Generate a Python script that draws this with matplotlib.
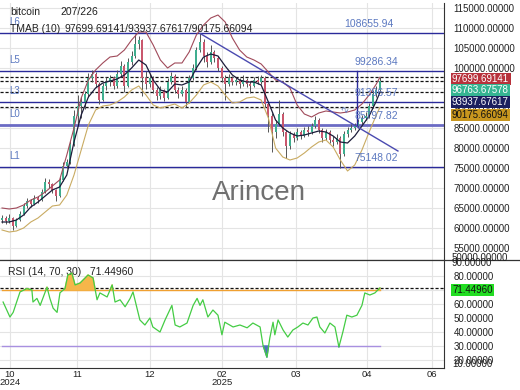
import matplotlib
matplotlib.use("Agg")
import matplotlib.pyplot as plt
import numpy as np

plt.rcParams['font.family'] = ['Liberation Sans', 'DejaVu Sans']

# ---------------- data ----------------
closes = [62.5, 61.8, 62.6, 60.5, 62.0, 63.5, 65.5, 66.8, 66.0, 67.5,
          67.0, 69.0, 71.5, 71.0, 69.5, 68.0, 72.0, 75.5, 76.5, 81.0,
          88.0, 90.5, 91.5, 93.5, 97.5, 98.5, 96.0, 92.0, 95.5, 96.5,
          97.5, 95.5, 98.5, 100.5, 95.5, 101.5, 103.0, 106.0, 107.0, 97.5,
          96.0, 97.5, 94.5, 93.0, 94.5, 92.5, 96.5, 98.0, 94.5, 93.5,
          94.5, 91.5, 97.5, 100.0, 104.5, 106.5, 103.0, 101.5, 104.0, 102.5,
          100.0, 97.5, 96.0, 97.5, 96.5, 97.0, 96.0, 97.0, 96.0, 95.5,
          97.0, 96.5, 97.5, 91.0, 88.0, 84.0, 86.0, 88.5, 84.0, 80.5,
          83.5, 82.5, 84.0, 83.0, 84.5, 84.0, 85.5, 87.0, 84.5, 82.5,
          84.0, 82.0, 81.5, 82.5, 78.5, 83.5, 84.5, 85.0, 85.5, 86.5,
          87.5, 88.0, 90.5, 93.5, 94.5, 96.76]
highs = [63.3, 63.0, 63.4, 62.8, 62.6, 64.2, 66.2, 67.4, 67.3, 68.2,
         68.0, 69.8, 72.4, 72.2, 71.3, 69.8, 72.7, 76.4, 77.3, 81.8,
         89.5, 93.2, 92.8, 94.2, 98.8, 99.6, 98.9, 96.4, 96.2, 97.8,
         98.2, 97.9, 99.4, 101.8, 101.0, 102.6, 104.3, 108.5, 108.0, 107.3,
         99.2, 98.4, 97.9, 95.3, 95.4, 94.8, 97.4, 99.0, 98.4, 95.2,
         95.6, 94.9, 98.2, 101.0, 105.3, 108.7, 107.2, 104.0, 105.8, 104.5,
         103.0, 100.4, 98.2, 98.6, 98.0, 97.8, 97.6, 98.2, 97.5, 96.8,
         97.7, 98.0, 98.3, 97.9, 91.6, 88.8, 87.0, 92.0, 89.0, 84.6,
         84.3, 84.0, 85.1, 84.5, 85.2, 85.5, 86.3, 88.0, 87.4, 85.0,
         84.8, 84.6, 83.0, 83.4, 83.0, 84.2, 85.2, 85.9, 86.2, 87.3,
         88.2, 89.0, 91.3, 94.4, 95.5, 97.7]
lows = [61.2, 61.0, 61.3, 59.5, 60.2, 61.8, 63.2, 65.0, 65.3, 65.8,
        66.2, 66.8, 68.7, 70.1, 68.8, 66.8, 67.8, 71.8, 74.9, 76.0,
        80.5, 86.0, 87.5, 89.8, 92.8, 96.5, 95.2, 91.0, 91.8, 94.5,
        95.6, 94.8, 95.0, 97.8, 94.0, 95.2, 100.7, 102.5, 104.8, 93.0,
        94.8, 95.2, 93.8, 92.0, 92.3, 91.8, 92.2, 96.0, 93.8, 92.6,
        92.9, 90.2, 91.2, 97.0, 99.5, 103.9, 101.6, 100.2, 101.0, 101.6,
        99.2, 96.5, 92.0, 95.4, 95.7, 95.8, 95.1, 95.6, 95.2, 93.7,
        95.2, 95.9, 96.1, 90.2, 84.0, 79.0, 82.5, 85.4, 83.1, 77.5,
        79.8, 81.4, 82.0, 82.2, 82.7, 83.1, 83.6, 85.0, 83.8, 81.6,
        81.9, 81.2, 80.6, 80.9, 75.1, 78.0, 82.8, 83.9, 84.4, 85.0,
        86.0, 87.1, 87.6, 90.0, 92.8, 94.0]
first_open = 62.0

band_idx = list(range(0, 105, 2)) + [105]
band_mid = [61.5, 61.5, 62.0, 63.25, 65.25, 66.5, 68.0, 69.5, 70.25, 73.25,
            81.5, 88.25, 92.75, 95.0, 96.25, 96.75, 97.25, 98.25, 100.0, 102.0,
            100.75, 97.0, 94.5, 94.0, 96.0, 95.75, 96.5, 100.0, 102.75, 103.5,
            103.0, 100.5, 98.25, 97.0, 96.5, 96.5, 95.75, 91.5, 87.0, 85.0,
            83.75, 83.0, 83.25, 83.75, 84.25, 84.0, 83.0, 81.5, 81.25, 83.0,
            85.5, 88.0, 91.75, 93.93767617]
band_up = [65.0, 64.75, 65.0, 65.75, 67.0, 67.75, 69.0, 70.5, 72.0, 78.25,
           85.0, 92.5, 97.0, 99.5, 101.25, 102.75, 103.0, 104.5, 107.0, 109.0,
           109.0, 105.75, 102.0, 100.0, 101.25, 101.25, 104.0, 108.25, 110.75, 112.5,
           113.25, 111.5, 107.5, 104.5, 102.75, 102.0, 101.0, 99.0, 97.0, 96.5,
           95.0, 90.75, 88.5, 87.75, 88.75, 89.25, 89.0, 88.75, 89.0, 89.5,
           91.0, 93.25, 96.0, 97.69969141]
band_low = [59.5, 59.0, 59.25, 60.0, 61.5, 62.5, 64.0, 65.5, 65.75, 68.25,
            73.25, 79.5, 85.75, 89.5, 90.5, 90.75, 91.5, 92.75, 94.5, 95.5,
            93.25, 90.75, 90.0, 90.5, 91.0, 90.0, 91.25, 93.25, 95.75, 96.5,
            95.5, 93.25, 91.25, 91.5, 92.5, 92.75, 92.0, 87.5, 80.0, 77.75,
            77.0, 77.5, 78.75, 80.25, 81.5, 82.0, 80.25, 77.0, 74.25, 75.75,
            79.5, 84.0, 88.25, 90.17566094]

rsi_idx = [0.3, 2.2, 3.1, 5, 6.9, 8.3, 8.6, 9.7, 10.6, 12.5, 13.3, 14.2, 15.3,
           16.1, 17.5, 18.3, 19.4, 20.3, 21.7, 23.1, 23.9, 25.3, 26.4, 27.2,
           29.2, 30.6, 31.4, 32.8, 34.2, 35.6, 36.4, 37.5, 38.3, 39.7, 41.1,
           41.9, 43.9, 45.3, 47.2, 48.1, 49.4, 51.4, 53.1, 54.2, 55, 55.8,
           57.2, 58.6, 60, 61.1, 61.9, 64.2, 66.1, 68.1, 69.7, 71.7, 72.5,
           73.6, 74.4, 75.3, 75.8, 76.7, 78.1, 79.4, 80.8, 82.2, 83.6, 85,
           86.4, 87.5, 88.3, 89.7, 91.1, 92.5, 93.6, 94.7, 95.8, 97.2, 98.6,
           100, 100.8, 102.2, 103.6, 105]
rsi_val = [61.4, 50.7, 54, 68.6, 71, 70, 61.4, 64, 59, 72, 64, 57, 54,
           68, 71, 80.7, 82, 73.6, 75, 78.6, 80.7, 78.6, 63, 67.9,
           65, 73.6, 61.4, 63, 58, 64, 68.6, 57, 48.6, 45, 50,
           43.6, 40, 48.6, 59, 45, 43.6, 46.4, 59, 64, 59, 63,
           50.7, 55.7, 52, 38, 47, 43.6, 45, 43, 46.4, 43.6, 30.7,
           22, 35.7, 47, 38, 48.6, 41.4, 36.4, 41.4, 43.6, 46.4, 45,
           50, 50.7, 43.6, 39.3, 46.4, 43.6, 29.3, 40, 52, 50.7, 52,
           59, 67.9, 66.4, 67.9, 71.4496]

levels = [108655.94, 99286.34, 91396.57, 85797.82, 75148.02]
level_names = {108655.94: "L6", 99286.34: "L5", 91396.57: "L3", 85797.82: "L0", 75148.02: "L1"}
tmab = [97699.69141, 93937.67617, 90175.66094]
last_close = 96763.67578
trend_idx = [55, 110]
trend_val = [108655.94, 79250.0]
vline_idx = 98.6

tick_idx = [2.2, 20.8, 41.1, 61.1, 81.7, 101.4, 119.4]
tick_lab = ["10\n2024", "11", "12", "02\n2025", "03", "04", "06"]

# ---------------- figure ----------------
W, H = 520, 390
fig = plt.figure(figsize=(5.2, 3.9), dpi=100)
fig.patch.set_facecolor('white')

def fx(px):
    return px / W

def fy(py):
    return 1 - py / H

ax = fig.add_axes([0, fy(260), fx(444), fy(3) - fy(260)])
ax2 = fig.add_axes([0, fy(368), fx(444), fy(260) - fy(368)], sharex=ax)

xlim = (-0.56, 122.8)
ax.set_xlim(*xlim)
ax.set_ylim(52000, 116250)
ax2.set_ylim(14.3, 91.4)

for a in (ax, ax2):
    a.set_facecolor('white')
    a.grid(True, color='#e4e4e4', lw=0.8)
    a.set_axisbelow(True)
    a.yaxis.tick_right()
    a.tick_params(axis='y', length=0, pad=7, labelsize=7, colors='#222222')
    for s in ('left', 'top'):
        a.spines[s].set_visible(False)
    a.spines['right'].set_color('#333333')
    a.spines['bottom'].set_color('#333333')

ax.set_yticks(np.arange(55000, 115001, 5000))
ax.yaxis.set_major_formatter(matplotlib.ticker.FormatStrFormatter('%.5f'))
ax2.set_yticks([20, 30, 40, 50, 60, 70, 80])
ax2.yaxis.set_major_formatter(matplotlib.ticker.FormatStrFormatter('%.5f'))
ax.set_xticks(tick_idx)
ax.tick_params(axis='x', labelbottom=False, length=0)
ax2.tick_params(axis='x', length=0, labelsize=6.8, pad=1.5, colors='#222222')
ax2.set_xticks(tick_idx)
ax2.set_xticklabels(tick_lab, linespacing=0.85)

# candles
n = len(closes)
idx = np.arange(n)
c = np.array(closes) * 1000
hi = np.array(highs) * 1000
lo = np.array(lows) * 1000
o = np.concatenate([[first_open * 1000], c[:-1]])
up = c >= o
ax.vlines(idx, lo, hi, color='#555555', lw=0.7, zorder=3)
ax.bar(idx[up], (c - o)[up], bottom=o[up], width=0.55, color='#3fae8f', zorder=4)
ax.bar(idx[~up], (c - o)[~up], bottom=o[~up], width=0.55, color='#c9576d', zorder=4)

# bands
bi = np.array(band_idx)
ax.plot(bi, np.array(band_up) * 1000, color='#a04a5a', lw=0.8, zorder=5)
ax.plot(bi, np.array(band_mid) * 1000, color='#1c1c3a', lw=0.9, zorder=5)
ax.plot(bi, np.array(band_low) * 1000, color='#c9ab62', lw=0.8, zorder=5)

# level lines
for lv in levels:
    if lv == 85797.82:
        ax.axhline(lv, color='#6b6bc4', lw=2.0, zorder=2)
    else:
        ax.axhline(lv, color='#2a2a9a', lw=1.0, zorder=2)
for tv in tmab + [last_close]:
    ax.axhline(tv, color='#111111', lw=0.9, ls=(0, (2.5, 1.5)), zorder=2)

ax.plot(trend_idx, trend_val, color='#4a4ab0', lw=1.0, zorder=6)
ax.plot([vline_idx, vline_idx], [85797.82, 99286.34], color='#2a2a9a', lw=1.0, zorder=6)

lab_col = '#5b78c0'
for lv in levels:
    ax.text(2, lv + 1500, level_names[lv], color=lab_col, fontsize=7, va='bottom', ha='left', zorder=7)
num_pos = {108655.94: 102, 99286.34: 104, 91396.57: 104, 85797.82: 104, 75148.02: 104}
for lv in levels:
    ax.text(num_pos[lv], lv + 1000, f"{lv:.2f}", color=lab_col, fontsize=7.5, ha='center', va='bottom', zorder=7)

ax.text(95.5, 89500, "2", color=lab_col, fontsize=6.5, rotation=60, ha='center', va='center', zorder=7)

# title texts
ax.text(fx(10) / fx(444), 1 - (12 - 3) / 257, "bitcoin", transform=ax.transAxes, fontsize=7.5, va='center', color='#222')
ax.text(fx(60) / fx(444), 1 - (12 - 3) / 257, "207/226", transform=ax.transAxes, fontsize=7.5, va='center', color='#222')
ax.text(fx(10) / fx(444), 1 - (29 - 3) / 257, "TMAB (10)", transform=ax.transAxes, fontsize=7.5, va='center', color='#222', zorder=8)
ax.text(fx(64) / fx(444), 1 - (29 - 3) / 257, "97699.69141/93937.67617/90175.66094", transform=ax.transAxes,
        fontsize=7.5, va='center', color='#222', zorder=8)

# watermark
ax.text(fx(259) / fx(444), 1 - (193 - 3) / 257, "Arincen", transform=ax.transAxes, fontsize=20,
        ha='center', va='center', color='#707070', zorder=1)

# RSI
ri = np.array(rsi_idx)
rv = np.array(rsi_val)
ax2.plot([0, 105], [70, 70], color='#f0a030', lw=1.0, zorder=2)
ax2.plot([0, 105], [30, 30], color='#a890e0', lw=1.0, zorder=2)
ax2.axhline(71.4496, color='#111111', lw=0.9, ls=(0, (2.5, 1.5)), zorder=3)
ax2.fill_between(ri, rv, 70, where=rv > 70, interpolate=True, color='#f5b64a', zorder=3)
ax2.fill_between(ri, rv, 30, where=rv < 30, interpolate=True, color='#5070c0', zorder=3)
ax2.plot(ri, rv, color='#44cc44', lw=0.9, zorder=4)
ax2.text(fx(8) / fx(444), 1 - (272 - 260) / 108, "RSI (14, 70, 30)   71.44960", transform=ax2.transAxes,
         fontsize=7.5, va='center', color='#222')

# right side extra labels (clamped) and boxes
fig.text(fx(452), fy(258), "50000.00000", fontsize=7, va='center', ha='left', color='#222')
fig.text(fx(452), fy(263), "90.00000", fontsize=7, va='center', ha='left', color='#222')
fig.text(fx(452), fy(364), "10.00000", fontsize=7, va='center', ha='left', color='#222')

boxes = [(79, "97699.69141", '#b8323c', 'white'),
         (90, "96763.67578", '#35b592', 'white'),
         (102, "93937.67617", '#1b1f5e', 'white'),
         (115, "90175.66094", '#c8961e', '#111111')]
for py, txt, bg, fg in boxes:
    fig.text(fx(452), fy(py), txt, fontsize=7, va='center', ha='left', color=fg,
             bbox=dict(boxstyle='square,pad=0.15', fc=bg, ec='none'))
fig.text(fx(452), fy(290), "71.44960", fontsize=7, va='center', ha='left', color='#111111',
         bbox=dict(boxstyle='square,pad=0.15', fc='#22dd22', ec='none'))

# horizontal separator across full width
fig.add_artist(matplotlib.lines.Line2D([0, 1], [fy(260), fy(260)], color='#333333', lw=0.9))

fig.savefig('out.png', dpi=100)
